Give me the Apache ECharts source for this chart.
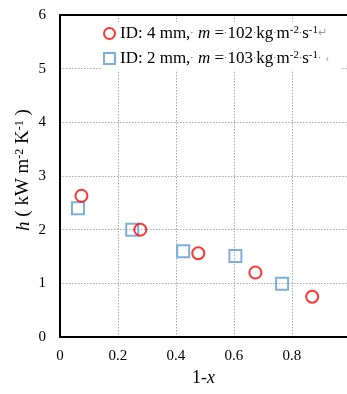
<!DOCTYPE html>
<html><head><meta charset="utf-8">
<script src="https://cdn.jsdelivr.net/npm/echarts@6/dist/echarts.min.js"></script>
<style>html,body{margin:0;padding:0;background:#fff}#c{width:347px;height:394px}</style>
</head><body><div id="c"></div>
<script>
var xTicks = [0, 0.2, 0.4, 0.6, 0.8];
var yTicks = [0, 1, 2, 3, 4, 5, 6];
var id4x = [0.074, 0.277, 0.477, 0.674, 0.870];
var id4h = [2.63, 2.00, 1.56, 1.20, 0.75];
var id2x = [0.062, 0.249, 0.425, 0.605, 0.766];
var id2h = [2.40, 2.00, 1.60, 1.51, 0.99];
var seriesNames = ['ID4', 'ID2'];

var serif = '"Liberation Serif", "Times New Roman", serif';
var chart = echarts.init(document.getElementById('c'));
function pairs(xs, ys){ return xs.map(function(v,i){ return [v, ys[i]]; }); }
var legendText = {
  ID4: '{t|ID: 4 mm,}{d|·} {i|m} {t|=}{d|·}{t|102}{d|·}{t|kg}{d|·}{t|m}{sup|-2}{d|·}{t|s}{sup|-1}{g|↵}',
  ID2: '{t|ID: 2 mm,}{d|·} {i|m} {t|=}{d|·}{t|103}{d|·}{t|kg}{d|·}{t|m}{sup|-2}{d|·}{t|s}{sup|-1}{d|·} {g|‹}'
};
chart.setOption({
  animation: false,
  grid: { left: 60, top: 15, right: 0, bottom: 57 },
  legend: {
    left: 101, top: 22, orient: 'vertical', itemGap: 8, itemWidth: 11, itemHeight: 11,
    backgroundColor: '#fff', padding: [3, 12, 3, 2],
    data: seriesNames,
    formatter: function(n){ return legendText[n]; },
    textStyle: { fontFamily: serif, fontSize: 17, color: '#000',
      rich: {
        t: { fontFamily: serif, fontSize: 17, color: '#000' },
        i: { fontFamily: serif, fontSize: 17, fontStyle: 'italic', color: '#000' },
        d: { fontFamily: serif, fontSize: 10, color: '#555' },
        sup: { fontFamily: serif, fontSize: 11, color: '#000', verticalAlign: 'top', padding: [0,0,6,0] },
        g: { fontFamily: serif, fontSize: 11, color: '#999' }
      } }
  },
  xAxis: [{
    type: 'value', min: 0, max: 0.99, interval: 0.2,
    axisLine: { show: true, lineStyle: { color: '#000', width: 2 } },
    axisTick: { show: false },
    axisLabel: { fontFamily: serif, fontSize: 15, color: '#000', margin: 12, showMaxLabel: false,
      formatter: function(v){ return xTicks.indexOf(+v.toFixed(1)) >= 0 && v < 0.9 ? String(+v.toFixed(1)) : ''; } },
    splitLine: { show: true, lineStyle: { color: '#aaa', type: [1.5, 1.5], width: 1 } },
    name: '{a|1-}{b|x}', nameLocation: 'middle', nameGap: 32,
    nameTextStyle: { rich: { a: { fontFamily: serif, fontSize: 18, color: '#000' }, b: { fontFamily: serif, fontSize: 18, fontStyle: 'italic', color: '#000' } } }
  }, {
    type: 'value', position: 'top', min: 0, max: 0.99, interval: 0.2,
    axisLine: { show: true, onZero: false, lineStyle: { color: '#000', width: 2 } },
    axisTick: { show: false }, axisLabel: { show: false }, splitLine: { show: false }
  }],
  yAxis: {
    type: 'value', min: 0, max: 6, interval: 1,
    axisLine: { show: true, lineStyle: { color: '#000', width: 2 } },
    axisTick: { show: false },
    axisLabel: { fontFamily: serif, fontSize: 15, color: '#000', margin: 14 },
    splitLine: { show: true, lineStyle: { color: '#aaa', type: [1.5, 1.5], width: 1 } },
    name: '{i|h}{t| ( kW m}{sup|-2}{t| K}{sup|-1}{t| )}', nameLocation: 'middle', nameGap: 27, nameRotate: 90,
    nameMoveOverlap: false,
    nameTextStyle: { padding: [0, 0, 0, 12], rich: {
      i: { fontFamily: serif, fontSize: 19, fontStyle: 'italic', color: '#000' },
      t: { fontFamily: serif, fontSize: 19, color: '#000' },
      sup: { fontFamily: serif, fontSize: 12, color: '#000', verticalAlign: 'top', padding: [0,0,7,0] }
    } }
  },
  series: [
    { name: 'ID4', type: 'scatter', data: pairs(id4x, id4h), symbol: 'circle', symbolSize: 12,
      itemStyle: { color: 'rgba(255,255,255,0)', borderColor: '#ff0000', borderWidth: 2 }, z: 3 },
    { name: 'ID2', type: 'scatter', data: pairs(id2x, id2h), symbol: 'rect', symbolSize: 12,
      itemStyle: { color: 'rgba(255,255,255,0)', borderColor: '#5b9bd5', borderWidth: 2 }, z: 2 }
  ]
});
</script></body></html>
